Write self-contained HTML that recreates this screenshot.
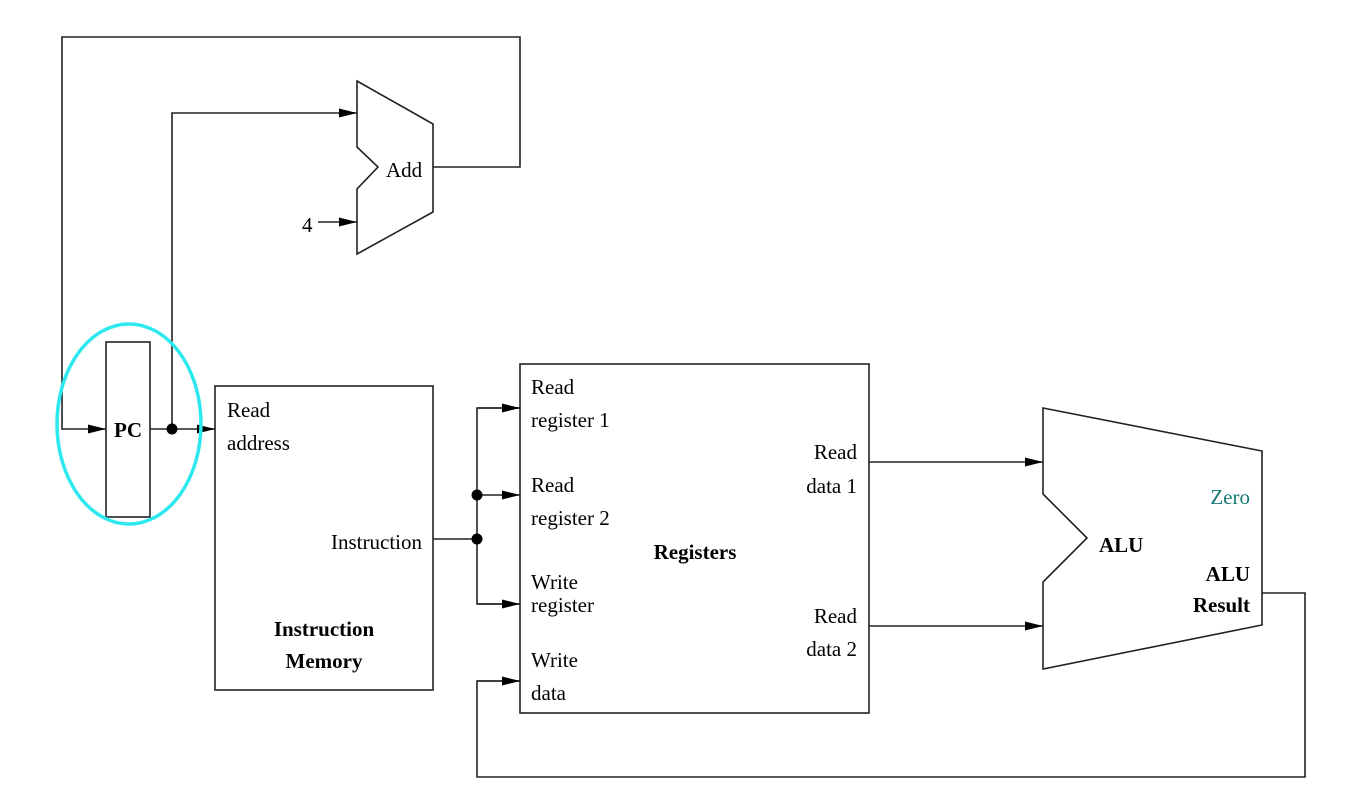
<!DOCTYPE html>
<html><head><style>html,body{margin:0;padding:0;background:#fff}svg{display:block}text{font-family:"Liberation Serif",serif}</style></head>
<body>
<svg width="1366" height="807" viewBox="0 0 1366 807" xmlns="http://www.w3.org/2000/svg" font-family="'Liberation Serif', serif" font-size="21">
<defs><marker id="a" markerWidth="18" markerHeight="10" refX="18" refY="5" orient="auto" markerUnits="userSpaceOnUse"><path d="M0,0.5 L18,5 L0,9.5 Z" fill="#000"/></marker></defs>
<g fill="none" stroke="#222" stroke-width="1.6">
<polyline points="433,167 520,167 520,37 62,37 62,429 106,429" marker-end="url(#a)"/>
<polyline points="172,429 172,113 357,113" marker-end="url(#a)"/>
<line x1="318" y1="222" x2="357" y2="222" marker-end="url(#a)"/>
<polygon points="357,81 433,124 433,212 357,254 357,189 378,167 357,147"/>
<rect x="106" y="342" width="44" height="175"/>
<line x1="150" y1="429" x2="215" y2="429" marker-end="url(#a)"/>
<rect x="215" y="386" width="218" height="304"/>
<line x1="433" y1="539" x2="477" y2="539"/>
<polyline points="520,408 477,408 477,604 520,604"/>
<line x1="477" y1="408" x2="520" y2="408" marker-end="url(#a)"/>
<line x1="477" y1="495" x2="520" y2="495" marker-end="url(#a)"/>
<line x1="477" y1="604" x2="520" y2="604" marker-end="url(#a)"/>
<rect x="520" y="364" width="349" height="349"/>
<line x1="869" y1="462" x2="1043" y2="462" marker-end="url(#a)"/>
<line x1="869" y1="626" x2="1043" y2="626" marker-end="url(#a)"/>
<polygon points="1043,408 1262,451 1262,625 1043,669 1043,582 1087,538 1043,494"/>
<polyline points="1262,593 1305,593 1305,777 477,777 477,681 520,681"/>
<line x1="477" y1="681" x2="520" y2="681" marker-end="url(#a)"/>
<ellipse cx="129" cy="424" rx="72" ry="100" stroke="#2ee8f0" stroke-width="3.5"/>
</g>
<g fill="#000">
<circle cx="172" cy="429" r="5.5"/><circle cx="477" cy="495" r="5.5"/><circle cx="477" cy="539" r="5.5"/>
<text x="386" y="177">Add</text>
<text x="302" y="232">4</text>
<text x="128" y="437" font-weight="bold" text-anchor="middle">PC</text>
<text x="227" y="417">Read</text><text x="227" y="450">address</text>
<text x="422" y="549" text-anchor="end">Instruction</text>
<text x="324" y="636" font-weight="bold" text-anchor="middle">Instruction</text>
<text x="324" y="668" font-weight="bold" text-anchor="middle">Memory</text>
<text x="531" y="394">Read</text><text x="531" y="427">register 1</text>
<text x="531" y="492">Read</text><text x="531" y="525">register 2</text>
<text x="531" y="589">Write</text><text x="531" y="612">register</text>
<text x="531" y="667">Write</text><text x="531" y="700">data</text>
<text x="695" y="559" font-weight="bold" text-anchor="middle">Registers</text>
<text x="857" y="459" text-anchor="end">Read</text><text x="857" y="493" text-anchor="end">data 1</text>
<text x="857" y="623" text-anchor="end">Read</text><text x="857" y="656" text-anchor="end">data 2</text>
<text x="1099" y="552" font-weight="bold">ALU</text>
<text x="1250" y="504" text-anchor="end" fill="#1a7a78">Zero</text>
<text x="1250" y="581" font-weight="bold" text-anchor="end">ALU</text>
<text x="1250" y="612" font-weight="bold" text-anchor="end">Result</text>
</g>
</svg>
</body></html>
